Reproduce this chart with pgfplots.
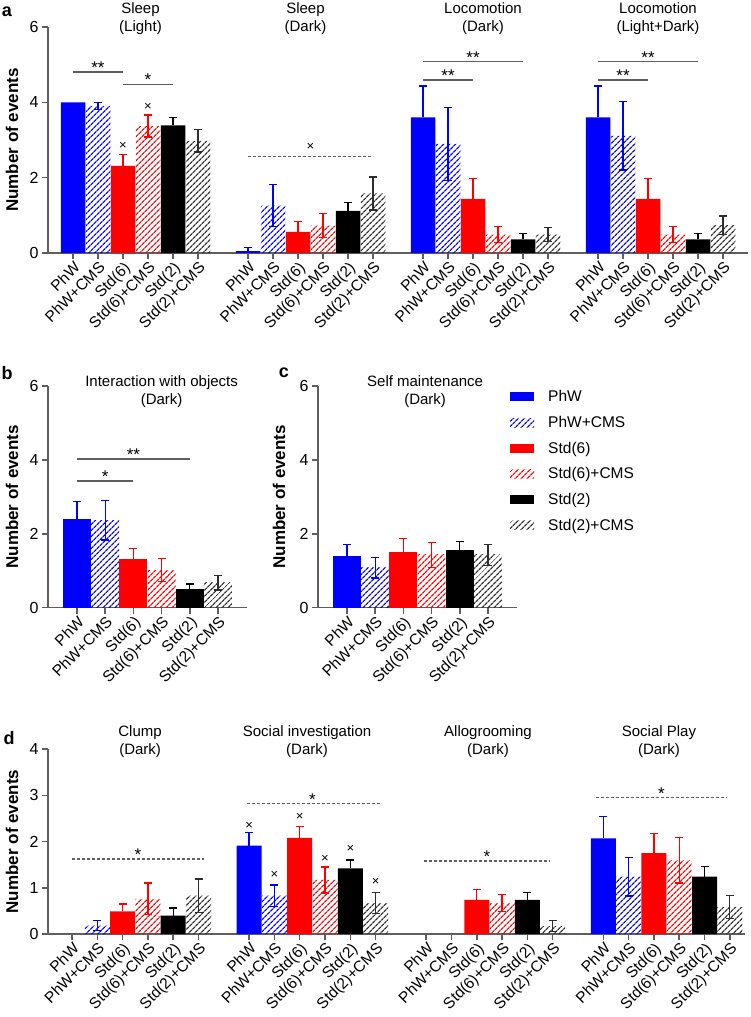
\documentclass[border=0pt]{standalone}
\usepackage{fontspec}
\setmainfont{Liberation Sans}
\usepackage{pgfplots}
\pgfplotsset{compat=1.18}
\usetikzlibrary{patterns.meta}

\definecolor{axgray}{RGB}{95,95,95}
\definecolor{hblack}{RGB}{45,45,45}

\pgfplotsset{
  barlegend/.style={legend image code/.code={\path[##1] (0pt,-4.5pt) rectangle (24pt,4.5pt);}},
  solidbar/.style={ybar, bar shift=0pt, fill=#1, draw=none, barlegend,
    error bars/y dir=plus, error bars/y explicit,
    error bars/error bar style={draw=#1, line width=1.3pt},
    error bars/error mark options={draw=#1, rotate=90, mark size=4pt, line width=1.3pt}},
  hatchbar/.style={ybar, bar shift=0pt, draw=none,
    pattern={Lines[angle=45,distance=4pt,line width=1.3pt]}, pattern color=#1, barlegend,
    error bars/y dir=both, error bars/y explicit,
    error bars/error bar style={draw=#1, line width=1.3pt},
    error bars/error mark options={draw=#1, rotate=90, mark size=4pt, line width=1.3pt}},
  panel/.style={
    scale only axis, anchor=south west, clip=false,
    axis lines=left, axis line style={-, draw=axgray, line width=1.5pt},
    tick style={draw=axgray, line width=1.5pt},
    tick align=outside, major tick length=6pt,
    ymin=0,
    xticklabel style={rotate=45, anchor=north east, font=\fontsize{15.5}{17}\selectfont, inner sep=1pt},
    yticklabel style={font=\fontsize{16}{18}\selectfont},
    /pgf/number format/assume math mode=true,
    ylabel={Number of events},
    ylabel style={font=\bfseries\fontsize{17}{19}\selectfont, anchor=center},
  },
}
\tikzset{
  sig/.style={draw=axgray, line width=1.5pt},
  dsig/.style={draw=axgray, line width=1.5pt, dash pattern=on 3pt off 2pt},
  star/.style={anchor=base, yshift=-1.5pt, font=\fontsize{17}{17}\selectfont},
  cross/.style={anchor=center, font=\fontsize{13}{13}\selectfont},
  ttl/.style={align=center, font=\fontsize{15}{18}\selectfont},
  plab/.style={font=\bfseries\fontsize{18}{20}\selectfont},
}

\begin{document}
\begin{tikzpicture}
\useasboundingbox (0pt,0pt) rectangle (750pt,-1017pt);

% ---------- row a ----------
\begin{axis}[panel, at={(48pt,-253pt)}, width=700pt, height=226pt,
  xmin=-1, xmax=27, ymax=6, ytick={0,2,4,6}, bar width=24.5pt,
  ylabel style={at={(axis description cs:-0.0514,0.5)}},
  xtick={0,1,2,3,4,5,7,8,9,10,11,12,14,15,16,17,18,19,21,22,23,24,25,26},
  xticklabels={PhW,PhW+CMS,Std(6),Std(6)+CMS,Std(2),Std(2)+CMS,
               PhW,PhW+CMS,Std(6),Std(6)+CMS,Std(2),Std(2)+CMS,
               PhW,PhW+CMS,Std(6),Std(6)+CMS,Std(2),Std(2)+CMS,
               PhW,PhW+CMS,Std(6),Std(6)+CMS,Std(2),Std(2)+CMS}]
\addplot[solidbar=blue] coordinates {(0,4.0) (7,0.05) +- (0,0.09) (14,3.6) +- (0,0.83) (21,3.6) +- (0,0.83)};
\addplot[hatchbar=blue] coordinates {(1,3.90) +- (0,0.09) (8,1.26) +- (0,0.55) (15,2.9) +- (0,0.97) (22,3.11) +- (0,0.91)};
\addplot[solidbar=red] coordinates {(2,2.31) +- (0,0.31) (9,0.56) +- (0,0.27) (16,1.44) +- (0,0.53) (23,1.44) +- (0,0.53)};
\addplot[hatchbar=red] coordinates {(3,3.37) +- (0,0.29) (10,0.73) +- (0,0.32) (17,0.49) +- (0,0.22) (24,0.49) +- (0,0.22)};
\addplot[solidbar=black] coordinates {(4,3.39) +- (0,0.21) (11,1.12) +- (0,0.23) (18,0.36) +- (0,0.15) (25,0.36) +- (0,0.15)};
\addplot[hatchbar=hblack] coordinates {(5,2.98) +- (0,0.3) (12,1.58) +- (0,0.44) (19,0.49) +- (0,0.18) (26,0.74) +- (0,0.24)};
% titles
\node[ttl] at (axis cs:2.7,6.22) {Sleep\\(Light)};
\node[ttl] at (axis cs:9.3,6.22) {Sleep\\(Dark)};
\node[ttl] at (axis cs:16.4,6.22) {Locomotion\\(Dark)};
\node[ttl] at (axis cs:23.4,6.22) {Locomotion\\(Light+Dark)};
% significance
\draw[sig] (axis cs:0,4.8) -- (axis cs:2,4.8);
\node[star] at (axis cs:1,4.8) {**};
\draw[sig] (axis cs:2,4.48) -- (axis cs:4,4.48);
\node[star] at (axis cs:3,4.48) {*};
\node[cross] at (axis cs:2,2.84) {×};
\node[cross] at (axis cs:3,3.87) {×};
\draw[dsig] (axis cs:7,2.56) -- (axis cs:12,2.56);
\node[cross] at (axis cs:9.5,2.83) {×};
\draw[sig] (axis cs:14,5.08) -- (axis cs:18,5.08);
\node[star] at (axis cs:16,5.08) {**};
\draw[sig] (axis cs:14,4.59) -- (axis cs:16,4.59);
\node[star] at (axis cs:15,4.59) {**};
\draw[sig] (axis cs:21,5.08) -- (axis cs:25,5.08);
\node[star] at (axis cs:23,5.08) {**};
\draw[sig] (axis cs:21,4.59) -- (axis cs:23,4.59);
\node[star] at (axis cs:22,4.59) {**};
\end{axis}

% ---------- row b ----------
\begin{axis}[panel, at={(48pt,-607.7pt)}, width=199pt, height=221.7pt,
  xmin=-1.03, xmax=6.03, ymax=6, ytick={0,2,4,6}, bar width=28pt,
  ylabel style={at={(axis description cs:-0.181,0.5)}},
  xtick={0,...,5},
  xticklabels={PhW,PhW+CMS,Std(6),Std(6)+CMS,Std(2),Std(2)+CMS}]
\addplot[solidbar=blue] coordinates {(0,2.41) +- (0,0.46)};
\addplot[hatchbar=blue] coordinates {(1,2.37) +- (0,0.54)};
\addplot[solidbar=red] coordinates {(2,1.32) +- (0,0.29)};
\addplot[hatchbar=red] coordinates {(3,1.02) +- (0,0.31)};
\addplot[solidbar=black] coordinates {(4,0.50) +- (0,0.14)};
\addplot[hatchbar=hblack] coordinates {(5,0.68) +- (0,0.20)};
\node[ttl] at (axis cs:3.0,5.86) {Interaction with objects\\(Dark)};
\draw[sig] (axis cs:0,4.03) -- (axis cs:4,4.03);
\node[star] at (axis cs:2,4.03) {**};
\draw[sig] (axis cs:0,3.43) -- (axis cs:2,3.43);
\node[star] at (axis cs:1,3.43) {*};
\end{axis}

% ---------- row c ----------
\begin{axis}[panel, at={(318pt,-607.7pt)}, width=199pt, height=221.7pt,
  xmin=-1.03, xmax=6.03, ymax=6, ytick={0,2,4,6}, bar width=28pt,
  ylabel style={at={(axis description cs:-0.196,0.5)}},
  xtick={0,...,5},
  xticklabels={PhW,PhW+CMS,Std(6),Std(6)+CMS,Std(2),Std(2)+CMS},
  legend style={at={(0.965,0.99)}, anchor=north west, draw=none, fill=none,
    font=\fontsize{15.5}{17}\selectfont, row sep=9pt, inner sep=0pt,
    cells={anchor=west}, /tikz/every odd column/.append style={column sep=12pt}}]
\addplot[solidbar=blue] coordinates {(0,1.41) +- (0,0.30)};
\addplot[hatchbar=blue] coordinates {(1,1.08) +- (0,0.28)};
\addplot[solidbar=red] coordinates {(2,1.50) +- (0,0.38)};
\addplot[hatchbar=red] coordinates {(3,1.43) +- (0,0.34)};
\addplot[solidbar=black] coordinates {(4,1.56) +- (0,0.23)};
\addplot[hatchbar=hblack] coordinates {(5,1.43) +- (0,0.28)};
\legend{PhW,PhW+CMS,Std(6),Std(6)+CMS,Std(2),Std(2)+CMS}
\node[ttl] at (axis cs:2.77,5.86) {Self maintenance\\(Dark)};
\end{axis}

% ---------- row d ----------
\begin{axis}[panel, at={(48pt,-934pt)}, width=697pt, height=185pt,
  xmin=-0.95, xmax=26.6, ymax=4, ytick={0,1,2,3,4}, bar width=25pt,
  ylabel style={at={(axis description cs:-0.0517,0.5)}},
  xtick={0,1,2,3,4,5,7,8,9,10,11,12,14,15,16,17,18,19,21,22,23,24,25,26},
  xticklabels={PhW,PhW+CMS,Std(6),Std(6)+CMS,Std(2),Std(2)+CMS,
               PhW,PhW+CMS,Std(6),Std(6)+CMS,Std(2),Std(2)+CMS,
               PhW,PhW+CMS,Std(6),Std(6)+CMS,Std(2),Std(2)+CMS,
               PhW,PhW+CMS,Std(6),Std(6)+CMS,Std(2),Std(2)+CMS}]
\addplot[solidbar=blue] coordinates {(7,1.91) +- (0,0.28) (21,2.07) +- (0,0.47)};
\addplot[hatchbar=blue] coordinates {(1,0.18) +- (0,0.11) (8,0.83) +- (0,0.23) (22,1.24) +- (0,0.42)};
\addplot[solidbar=red] coordinates {(2,0.49) +- (0,0.16) (9,2.08) +- (0,0.24) (16,0.74) +- (0,0.23) (23,1.75) +- (0,0.42)};
\addplot[hatchbar=red] coordinates {(3,0.76) +- (0,0.34) (10,1.17) +- (0,0.28) (17,0.67) +- (0,0.18) (24,1.59) +- (0,0.49)};
\addplot[solidbar=black] coordinates {(4,0.40) +- (0,0.16) (11,1.42) +- (0,0.18) (18,0.74) +- (0,0.16) (25,1.24) +- (0,0.22)};
\addplot[hatchbar=hblack] coordinates {(5,0.83) +- (0,0.36) (12,0.67) +- (0,0.23) (19,0.17) +- (0,0.12) (26,0.58) +- (0,0.25)};
\node[ttl] at (axis cs:2.69,4.15) {Clump\\(Dark)};
\node[ttl] at (axis cs:9.29,4.15) {Social investigation\\(Dark)};
\node[ttl] at (axis cs:16.44,4.15) {Allogrooming\\(Dark)};
\node[ttl] at (axis cs:23.2,4.15) {Social Play\\(Dark)};
\draw[dsig] (axis cs:0,1.62) -- (axis cs:5.2,1.62);
\node[star] at (axis cs:2.6,1.62) {*};
\draw[dsig] (axis cs:6.9,2.82) -- (axis cs:12.2,2.82);
\node[star] at (axis cs:9.5,2.82) {*};
\node[cross] at (axis cs:7,2.34) {×};
\node[cross] at (axis cs:8,1.28) {×};
\node[cross] at (axis cs:9,2.54) {×};
\node[cross] at (axis cs:10,1.62) {×};
\node[cross] at (axis cs:11,1.83) {×};
\node[cross] at (axis cs:12,1.12) {×};
\draw[dsig] (axis cs:13.9,1.58) -- (axis cs:18.9,1.58);
\node[star] at (axis cs:16.4,1.58) {*};
\draw[dsig] (axis cs:20.7,2.95) -- (axis cs:25.9,2.95);
\node[star] at (axis cs:23.3,2.95) {*};
\end{axis}

% panel letters
\node[plab] at (7pt,-12pt) {a};
\node[plab] at (7pt,-373pt) {b};
\node[plab] at (284pt,-373pt) {c};
\node[plab] at (9pt,-738pt) {d};
\end{tikzpicture}
\end{document}
